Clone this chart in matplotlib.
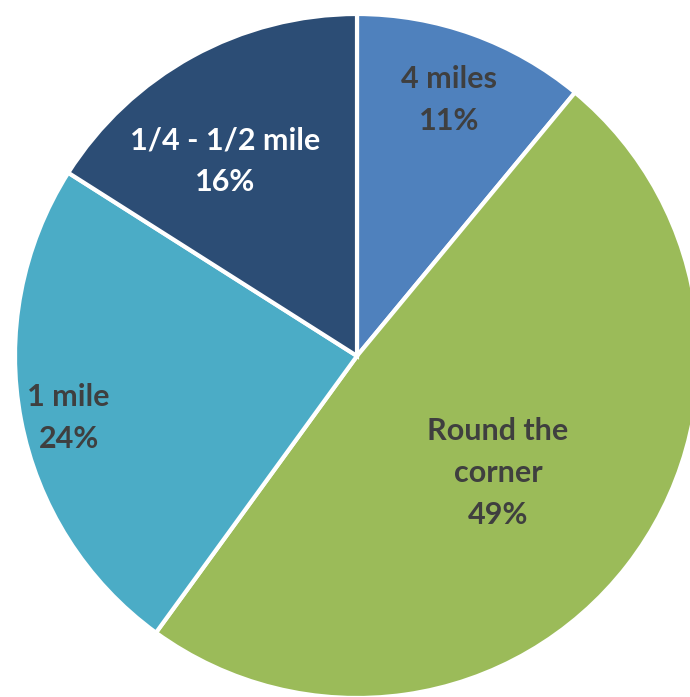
import numpy as np
import matplotlib.pyplot as plt

# Distance to destination, share of respondents
labels = ["4 miles", "Round the\ncorner", "1 mile", "1/4 - 1/2 mile"]
shares = [11, 49, 24, 16]
colors = ["#4f81bd", "#9bbb59", "#4bacc6", "#2c4d75"]
text_colors = ["#3f3f3f", "#3f3f3f", "#3f3f3f", "white"]

# label placement: fraction of radius, and a small angular nudge (deg)
label_r = [0.796, 0.536, 0.862, 0.688]
label_nudge = [0.0, -1.9, 1.3, 5.3]

W, H = 690, 697
fig = plt.figure(figsize=(W / 100, H / 100), dpi=100)
ax = fig.add_axes([0, 0, 1, 1])

cx, cy, r = 357, H - 356, 342
wedges, _ = ax.pie(shares, colors=colors, startangle=90, counterclock=False,
                   center=(cx, cy), radius=r, frame=True,
                   wedgeprops=dict(edgecolor="white", linewidth=3))

for w, lab, val, f, d, tc in zip(wedges, labels, shares, label_r,
                                 label_nudge, text_colors):
    mid = np.deg2rad((w.theta1 + w.theta2) / 2 + d)
    x = cx + f * r * np.cos(mid)
    y = cy + f * r * np.sin(mid)
    ax.text(x, y, f"{lab}\n{val}%", ha="center", va="center",
            fontsize=22, fontweight="bold", family="Lato",
            color=tc, linespacing=1.6)

ax.set_xlim(0, W)
ax.set_ylim(0, H)
ax.set_aspect("equal")
ax.axis("off")

fig.savefig("out.png", dpi=100, facecolor="white")
